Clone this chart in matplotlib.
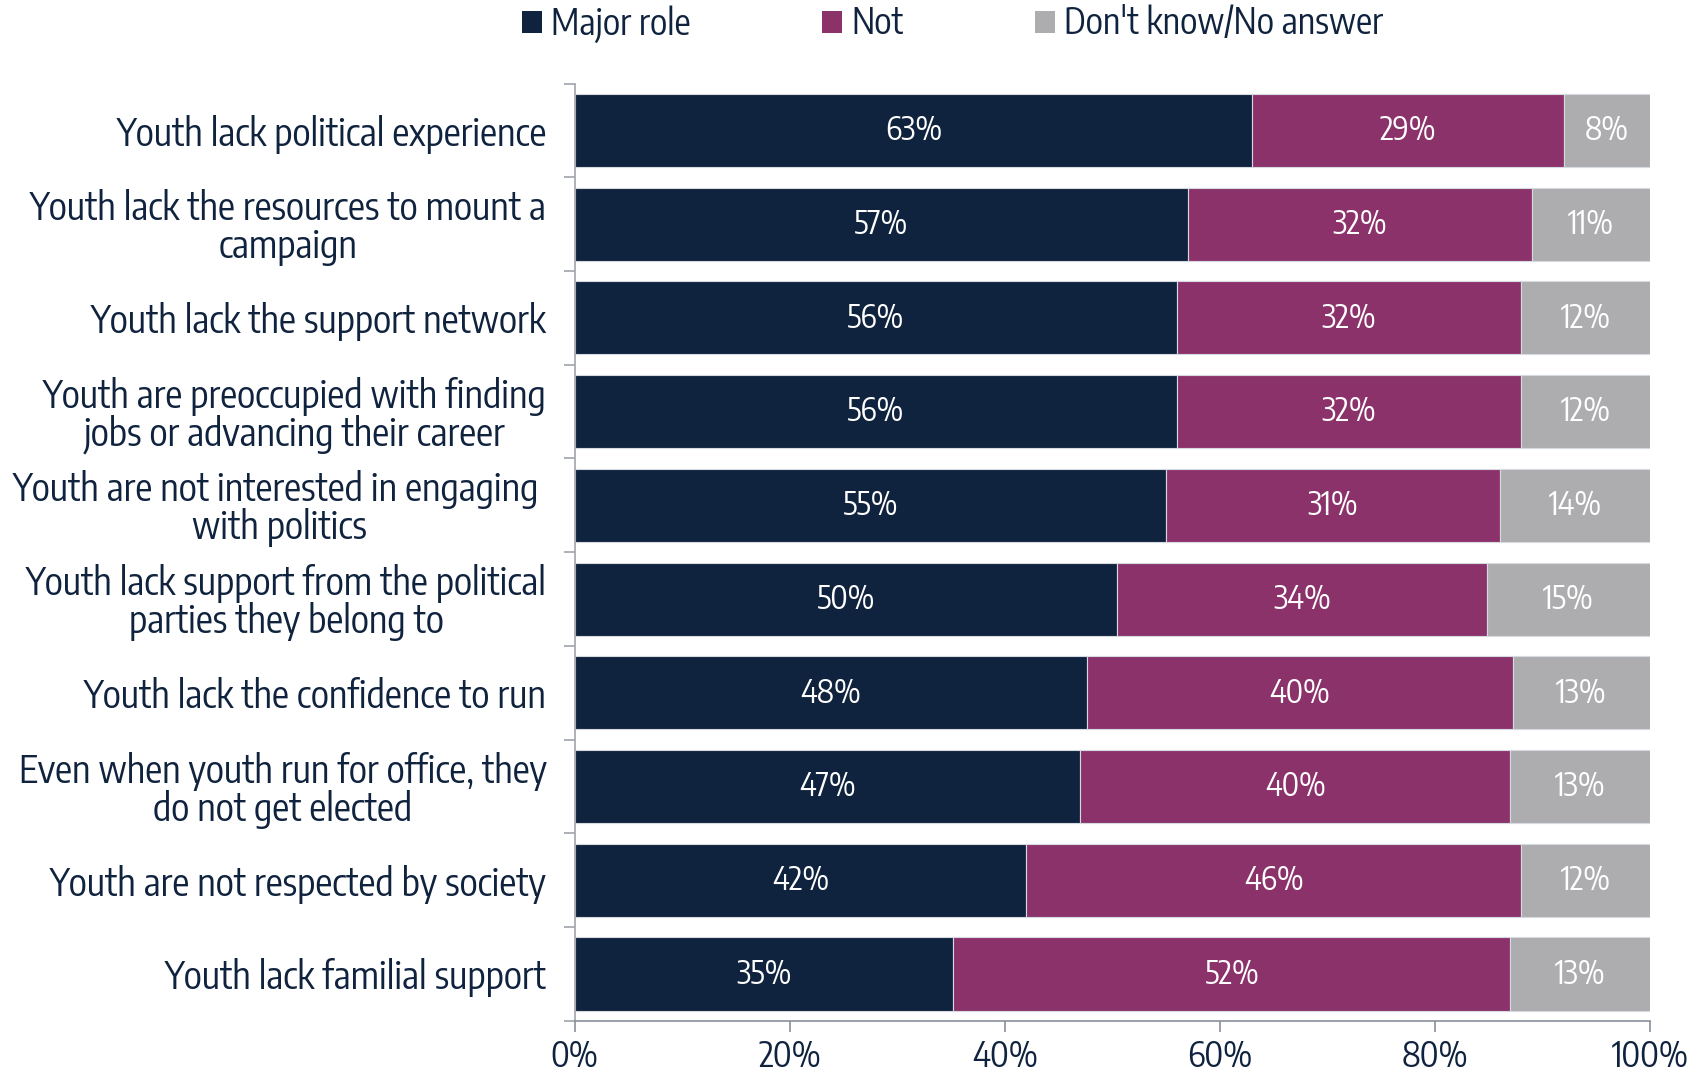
import matplotlib
matplotlib.use("Agg")
import matplotlib.pyplot as plt
import numpy as np

plt.rcParams['font.family'] = ['Encode Sans Condensed', 'DejaVu Sans']

# Data (top to bottom)
categories = [
    "Youth lack political experience",
    "Youth lack the resources to mount a\ncampaign",
    "Youth lack the support network",
    "Youth are preoccupied with finding\njobs or advancing their career",
    "Youth are not interested in engaging \nwith politics",
    "Youth lack support from the political\nparties they belong to",
    "Youth lack the confidence to run",
    "Even when youth run for office, they\ndo not get elected",
    "Youth are not respected by society",
    "Youth lack familial support",
]
major_role = [63, 57, 56, 56, 55, 50.4, 47.6, 47, 42, 35.2]
not_role = [29, 32, 32, 32, 31, 34.4, 39.6, 40, 46, 51.8]
dont_know = [8, 11, 12, 12, 14, 15.2, 12.8, 13, 12, 13]
series_names = ["Major role", "Not", "Don't know/No answer"]
colors = ["#10233e", "#8c326b", "#adadaf"]
text_color = "#10233e"

fig = plt.figure(figsize=(17, 10.78), dpi=100)
ax = fig.add_axes([0.338, 0.053, 0.6327, 0.8695])

y = np.arange(len(categories))
left = np.zeros(len(categories))
for vals, name, c in zip([major_role, not_role, dont_know], series_names, colors):
    vals = np.array(vals)
    ax.barh(y, vals, left=left, height=0.78, color=c, label=name,
            edgecolor="#d5d9e0", linewidth=0.8)
    for yi, l, v in zip(y, left, vals):
        ax.text(l + v / 2, yi, f"{v:.0f}%", ha="center", va="center",
                color="white", fontsize=23)
    left += vals

ax.set_ylim(len(categories) - 0.5, -0.5)
ax.set_xlim(0, 100)
ax.set_yticks(y)
ax.set_yticklabels(categories, fontsize=27.3, color=text_color, multialignment="center",
                   linespacing=0.97)
ax.set_yticks(np.arange(-0.5, len(categories)), minor=True)
ax.tick_params(axis="y", which="major", length=0, pad=20)
ax.tick_params(axis="y", which="minor", length=8, color="#a0a4ab", width=1.2)
ax.set_xticks([0, 20, 40, 60, 80, 100])
ax.set_xticklabels(["0%", "20%", "40%", "60%", "80%", "100%"], fontsize=25, color=text_color)
ax.tick_params(axis="x", length=8, color="#8a9099", width=1.2, pad=5)

for s in ["top", "right"]:
    ax.spines[s].set_visible(False)
ax.spines["left"].set_color("#a0a4ab")
ax.spines["bottom"].set_color("#8a9099")
ax.spines["left"].set_linewidth(1.2)
ax.spines["bottom"].set_linewidth(1.2)

handles, labels = ax.get_legend_handles_labels()
leg = fig.legend(handles, labels, loc="center left", ncol=3,
                 bbox_to_anchor=(0.307, 0.978), borderaxespad=0, borderpad=0,
                 frameon=False, fontsize=26, handlelength=0.55, handleheight=0.55,
                 handletextpad=0.25, columnspacing=3.65)
for t in leg.get_texts():
    t.set_color(text_color)
for h in leg.legend_handles:
    h.set_edgecolor("none")

fig.savefig("out.png", dpi=100)
